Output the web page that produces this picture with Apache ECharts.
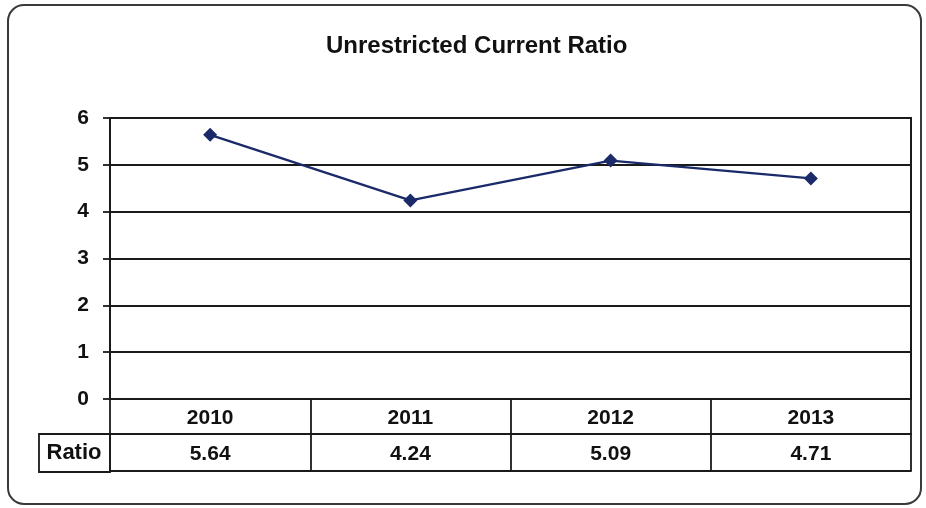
<!DOCTYPE html>
<html>
<head>
<meta charset="utf-8">
<script src="https://cdn.jsdelivr.net/npm/echarts@6/dist/echarts.min.js"></script>
<style>
  html, body { margin: 0; padding: 0; background: #ffffff; }
  #chart { width: 926px; height: 508px; }
</style>
</head>
<body>
<div id="chart"></div>
<script>
// Chart content
const chartTitle = 'Unrestricted Current Ratio';
const years = ['2010', '2011', '2012', '2013'];
const ratio = [5.64, 4.24, 5.09, 4.71];
const rowLabel = 'Ratio';
const yMin = 0, yMax = 6, yStep = 1;

const FONT = '"Liberation Sans", Arial, sans-serif';
const INK = '#1a1a1a';
const LINE = '#1b2a68';

const chart = echarts.init(document.getElementById('chart'), null, { renderer: 'canvas' });

const labelStyle = { color: '#111', fontFamily: FONT, fontWeight: 'bold', fontSize: 21 };

chart.setOption({
  backgroundColor: '#ffffff',
  animation: false,
  title: {
    text: chartTitle,
    left: 321,
    top: 29,
    textStyle: { color: '#111', fontFamily: FONT, fontWeight: 'bold', fontSize: 24 }
  },
  grid: {
    left: 110, right: 15, top: 118, bottom: 109,
    show: true, borderColor: INK, borderWidth: 2, backgroundColor: 'transparent'
  },
  xAxis: [
    {
      // year header row of the data table
      type: 'category', data: years, boundaryGap: true, position: 'bottom',
      axisLine: { lineStyle: { color: INK, width: 2 } },
      axisTick: { show: true, interval: 0, length: 72, lineStyle: { color: INK, width: 1.8 } },
      axisLabel: Object.assign({ interval: 0, margin: 9 }, labelStyle),
      splitLine: { show: false }
    },
    {
      // value row of the data table
      type: 'category', data: ratio.map(v => v.toFixed(2)), boundaryGap: true,
      position: 'bottom', offset: 35,
      axisLine: { lineStyle: { color: INK, width: 1.8 } },
      axisTick: { show: false },
      axisLabel: Object.assign({ interval: 0, margin: 10 }, labelStyle),
      splitLine: { show: false }
    },
    {
      // bottom edge of the data table
      type: 'category', data: years, boundaryGap: true,
      position: 'bottom', offset: 72,
      axisLine: { lineStyle: { color: INK, width: 1.8 } },
      axisTick: { show: false },
      axisLabel: { show: false },
      splitLine: { show: false }
    }
  ],
  yAxis: {
    type: 'value', min: yMin, max: yMax, interval: yStep,
    axisLine: { show: true, lineStyle: { color: INK, width: 2 } },
    axisTick: { show: true, length: 7, lineStyle: { color: INK, width: 1.8 } },
    axisLabel: Object.assign({ margin: 21 }, labelStyle),
    splitLine: { show: true, lineStyle: { color: INK, width: 1.8 } }
  },
  series: [{
    name: rowLabel,
    type: 'line',
    xAxisIndex: 0,
    data: ratio,
    symbol: 'diamond',
    symbolSize: 14,
    itemStyle: { color: LINE },
    lineStyle: { color: LINE, width: 2.4 }
  }],
  graphic: [
    {
      // rounded frame around the whole chart
      type: 'rect', silent: true, z: 0,
      shape: { x: 8, y: 5, width: 913, height: 499, r: 16 },
      style: { fill: 'none', stroke: '#3a3a3a', lineWidth: 2 }
    },
    {
      // legend cell of the data table
      type: 'rect', silent: true, z: 10,
      shape: { x: 39, y: 434, width: 71, height: 38 },
      style: { fill: 'none', stroke: INK, lineWidth: 1.8 }
    },
    {
      type: 'text', silent: true, z: 10,
      x: 74, y: 453,
      style: {
        text: rowLabel, fill: '#111', font: 'bold 22px ' + FONT,
        textAlign: 'center', textVerticalAlign: 'middle'
      }
    }
  ]
});
</script>
</body>
</html>
